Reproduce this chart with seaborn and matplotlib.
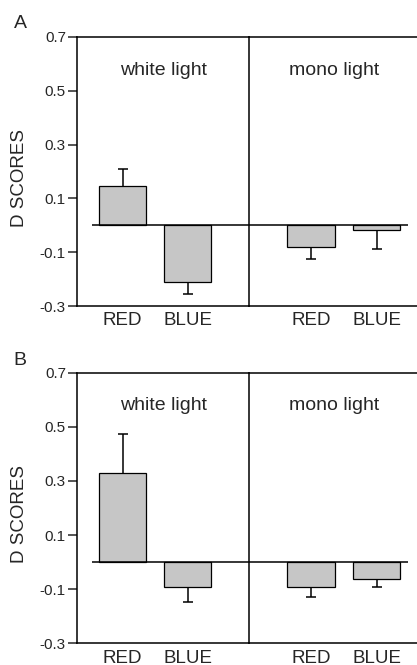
import matplotlib
matplotlib.use("Agg")
import matplotlib.pyplot as plt
import seaborn as sns
import pandas as pd
import numpy as np

# ---- data ----
panel_labels = ["A", "B"]
conditions = ["white light", "mono light"]
colors = ["RED", "BLUE"]
a_white = [0.147, -0.210]
a_white_err = [0.062, 0.045]
a_mono = [-0.080, -0.018]
a_mono_err = [0.047, 0.070]
b_white = [0.330, -0.092]
b_white_err = [0.145, 0.057]
b_mono = [-0.092, -0.061]
b_mono_err = [0.037, 0.030]
yticks = [-0.3, -0.1, 0.1, 0.3, 0.5, 0.7]
ytick_labels = ["-0.3", "-0.1", "0.1", "0.3", "0.5", "0.7"]
ylabel = "D SCORES"

sns.set_style("ticks")
plt.rcParams["font.family"] = ["Liberation Sans", "DejaVu Sans"]

W, H = 417, 665
fig = plt.figure(figsize=(W / 100, H / 100), dpi=100)

def fx(px):
    return px / W

def fy(py):
    return 1 - py / H

panel_data = [
    [(a_white, a_white_err), (a_mono, a_mono_err)],
    [(b_white, b_white_err), (b_mono, b_mono_err)],
]
# layout: (top, bottom) in pixels for each panel
panel_px = [(37, 306), (372.7, 643.3)]
x_left, x_div, x_right = 77, 249, 417
xlims = [(-0.70, 1.946), (-0.947, 1.618)]
text_x = [0.63, 0.35]
zero_span = [(-0.47, 1.946), (-0.947, 1.48)]
letter_base = [28, 365]

LW = 1.1
BAR_COLOR = "#c6c6c6"

for p, (top, bot) in enumerate(panel_px):
    for c in range(2):
        l = x_left if c == 0 else x_div
        r = x_div if c == 0 else x_right
        ax = fig.add_axes([fx(l), fy(bot), fx(r) - fx(l), fy(top) - fy(bot)])
        vals, errs = panel_data[p][c]
        df = pd.DataFrame({"color": colors, "score": vals})
        sns.barplot(data=df, x="color", y="score", order=colors, color=BAR_COLOR,
                    saturation=1, width=0.72, edgecolor="black", linewidth=0.9,
                    errorbar=None, ax=ax)
        lower = [e if v < 0 else 0 for v, e in zip(vals, errs)]
        upper = [e if v > 0 else 0 for v, e in zip(vals, errs)]
        eb = ax.errorbar(x=range(len(colors)), y=vals, yerr=[lower, upper], fmt="none",
                         ecolor="black", elinewidth=LW, capsize=3.3, capthick=LW, zorder=1)
        # keep only the caps at the outer end of each error bar
        for cl in eb[1]:
            xs, ys = cl.get_data()
            xs = np.asarray(xs, float)
            ys = np.asarray(ys, float)
            keep = np.abs(ys - np.asarray(vals)) > 1e-9
            cl.set_data(xs[keep], ys[keep])
        for b in ax.patches:
            b.set_zorder(2)
        ax.hlines(0, zero_span[c][0], zero_span[c][1], color="black", lw=LW, zorder=3)
        ax.set_xlim(*xlims[c])
        ax.set_ylim(-0.3, 0.7)
        ax.set_xlabel("")
        ax.set_ylabel("")
        ax.tick_params(axis="x", length=0, pad=4.5, labelsize=13.5)
        for s in ax.spines.values():
            s.set_linewidth(LW)
            s.set_color("black")
        if c == 0:
            ax.set_yticks(yticks)
            ax.set_yticklabels(ytick_labels)
            ax.tick_params(axis="y", length=6.5, width=LW, pad=1.5, labelsize=11)
            ax.spines["right"].set_visible(True)
            ax.text(-0.337, 0.476, ylabel, transform=ax.transAxes, rotation=90,
                    ha="center", va="center", fontsize=13.5)
        else:
            ax.set_yticks([])
            ax.spines["left"].set_visible(False)
            ax.spines["right"].set_visible(False)
        ax.text(text_x[c], 0.577, conditions[c], ha="center", va="center", fontsize=14)
        ax.set_facecolor("none")
    fig.text(fx(20), fy(letter_base[p]), panel_labels[p], ha="center", va="baseline",
             fontsize=14)

fig.savefig("out.png", dpi=100)
